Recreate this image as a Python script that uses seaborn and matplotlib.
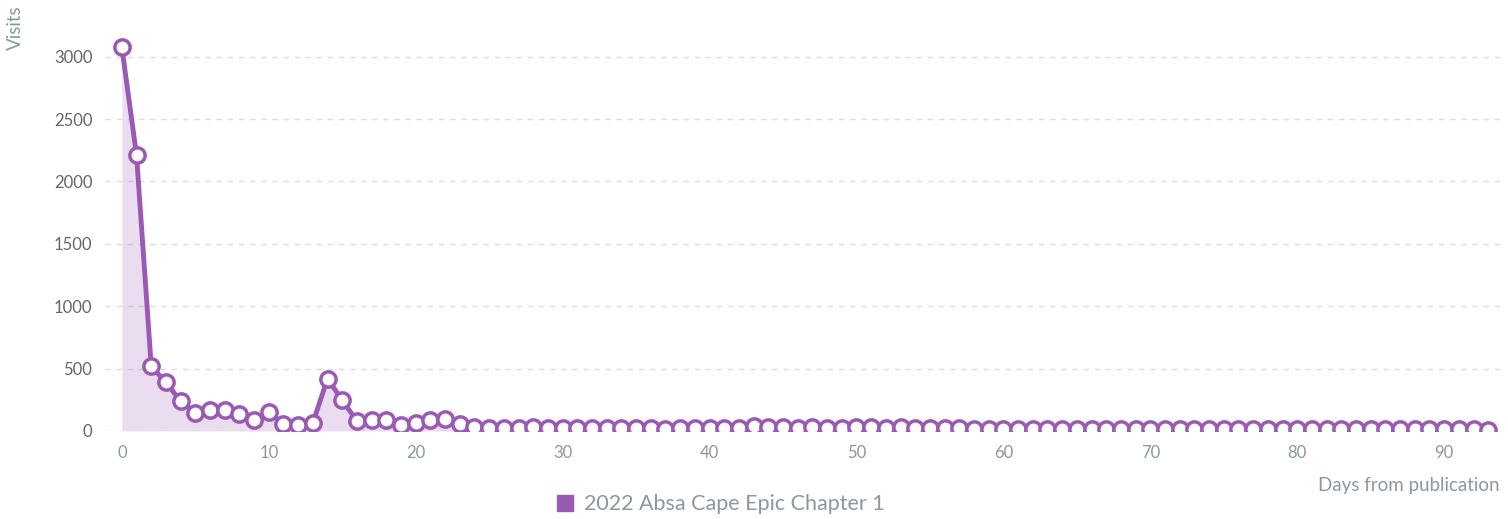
import matplotlib
matplotlib.use("Agg")
import matplotlib.pyplot as plt
from matplotlib.lines import Line2D
import seaborn as sns
import pandas as pd

# visits per day since publication
days = list(range(94))
visits = [
    3075, 2210, 520, 390, 240, 145, 165, 170, 140, 90,
    155, 55, 45, 65, 420, 245, 80, 85, 85, 45,
    60, 90, 95, 55, 35, 25, 25, 20, 30, 20,
    20, 25, 25, 20, 20, 25, 20, 15, 20, 20,
    20, 20, 25, 40, 30, 35, 25, 35, 25, 20,
    35, 30, 25, 30, 20, 20, 20, 20, 15, 15,
    15, 15, 15, 15, 15, 15, 15, 15, 15, 15,
    15, 15, 15, 15, 15, 15, 15, 15, 15, 15,
    15, 15, 15, 15, 15, 15, 15, 15, 15, 15,
    15, 15, 15, 10,
]
series_name = "2022 Absa Cape Epic Chapter 1"
x_ticks = [0, 10, 20, 30, 40, 50, 60, 70, 80, 90]
y_ticks = [0, 500, 1000, 1500, 2000, 2500, 3000]

purple = "#9b59b6"
tick_grey = "#666666"
label_grey = "#8a98a3"

sns.set_theme(style="white")
plt.rcParams["font.family"] = ["Lato", "DejaVu Sans"]

df = pd.DataFrame({"day": days, "visits": visits})

fig = plt.figure(figsize=(15.08, 5.19), dpi=100)
ax = fig.add_axes([0.0696, 0.1696, 0.9251, 0.7572])

ax.fill_between(df["day"], df["visits"], 0, color=purple, alpha=0.2, linewidth=0)
sns.lineplot(data=df, x="day", y="visits", ax=ax, color=purple, linewidth=3.5,
             marker="o", markersize=11, markerfacecolor="white",
             markeredgecolor=purple, markeredgewidth=2.5)

ax.set_xlim(-1.15, 93.8)
ax.set_ylim(0, 3150)
ax.set_xticks(x_ticks)
ax.set_yticks(y_ticks)
ax.set_xlabel("")
ax.set_ylabel("")
ax.grid(axis="y", color="#dddddd", linestyle=(0, (4, 4)), linewidth=1)
ax.set_axisbelow(True)
for s in ax.spines.values():
    s.set_visible(False)
ax.tick_params(axis="x", length=0, pad=10, labelsize=12, labelcolor=label_grey)
ax.tick_params(axis="y", length=0, pad=9, labelsize=12, labelcolor=tick_grey)

fig.text(15 / 1508, 1 - 28 / 519, "Visits", rotation=90, ha="center", va="center",
         fontsize=13.5, color=label_grey)
fig.text(0.9947, (519 - 485) / 519, "Days from publication", ha="right", va="center",
         fontsize=13.5, color=label_grey)

handle = Line2D([], [], marker="s", linestyle="none", markersize=12,
                markerfacecolor=purple, markeredgecolor=purple)
fig.legend([handle], [series_name], loc="center", bbox_to_anchor=(0.477, 0.028),
           frameon=False, fontsize=15.5, labelcolor=label_grey, handletextpad=0.4,
           handlelength=1.0)

fig.savefig("out.png", dpi=100)
